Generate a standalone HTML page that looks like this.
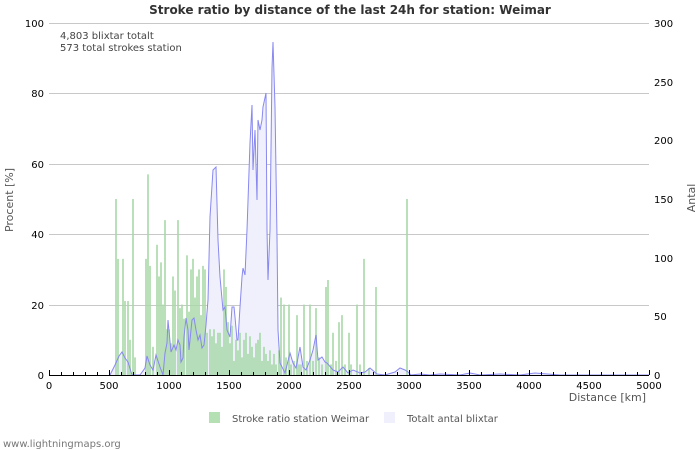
<!DOCTYPE html>
<html><head><meta charset="utf-8"><style>
html,body{margin:0;padding:0;background:#fff;width:700px;height:450px;overflow:hidden}
svg text{font-family:"DejaVu Sans","Liberation Sans",sans-serif}
</style></head><body>
<svg width="700" height="450" xmlns="http://www.w3.org/2000/svg">
<rect width="700" height="450" fill="#fff"/>
<text x="350" y="14" text-anchor="middle" font-size="12" font-weight="bold" fill="#333">Stroke ratio by distance of the last 24h for station: Weimar</text>
<g stroke="#c8c8c8" stroke-width="1">
<line x1="49" y1="23.5" x2="649" y2="23.5"/><line x1="49" y1="93.5" x2="649" y2="93.5"/>
<line x1="49" y1="164.5" x2="649" y2="164.5"/><line x1="49" y1="234.5" x2="649" y2="234.5"/>
<line x1="49" y1="305.5" x2="649" y2="305.5"/>
</g>
<polygon id="area" fill="#f0f0fc" stroke="none"/>
<g fill="#a8d8a8" fill-opacity="0.8" id="bars"></g>
<polyline id="line" fill="none" stroke="#8888f0" stroke-width="1"/>
<g stroke="#000" stroke-width="1">
<line x1="49" y1="375.5" x2="649" y2="375.5"/>
</g>
<g id="ticks" stroke="#000"></g>
<g font-size="10" fill="#000" text-anchor="end">
<text x="44" y="27">100</text><text x="44" y="97">80</text><text x="44" y="168">60</text>
<text x="44" y="238">40</text><text x="44" y="309">20</text><text x="44" y="379">0</text>
</g>
<g font-size="10" fill="#000" text-anchor="start">
<text x="654" y="27">300</text><text x="654" y="144">200</text><text x="654" y="262">100</text>
<text x="654" y="320">50</text><text x="654" y="203">150</text><text x="654" y="86">250</text>
<text x="654" y="379">0</text>
</g>
<g font-size="10" fill="#000" text-anchor="middle" id="xl"></g>
<text x="646" y="401" font-size="11" fill="#555" text-anchor="end">Distance   [km]</text>
<text transform="translate(13,200) rotate(-90)" font-size="11" fill="#555" text-anchor="middle">Procent   [%]</text>
<text transform="translate(695,198) rotate(-90)" font-size="11" fill="#555" text-anchor="middle">Antal</text>
<text x="60" y="39" font-size="10" fill="#444">4,803 blixtar totalt</text>
<text x="60" y="51" font-size="10" fill="#444">573 total strokes station</text>
<rect x="209" y="412" width="11" height="11" fill="#b4e0b4"/>
<text x="232" y="422" font-size="10" fill="#555">Stroke ratio station Weimar</text>
<rect x="384" y="412" width="11" height="11" fill="#f0f0fc"/>
<text x="407" y="422" font-size="10" fill="#555">Totalt antal blixtar</text>
<text x="3" y="447" font-size="10" fill="#777">www.lightningmaps.org</text>
</svg>
<script>
var NS="http://www.w3.org/2000/svg";
var bars=[[115,50],[117,33],[122,33],[124,21],[127,21],[129,10],[132,50],[134,5],[145,33],[147,57],[149,31],[152,8],[156,37],[158,28],[160,32],[162,20],[164,44],[166,13],[168,13],[170,9],[172,28],[174,24],[177,44],[179,19],[181,20],[183,16],[186,34],[188,18],[190,30],[192,33],[194,22],[196,28],[198,30],[200,17],[202,31],[204,30],[206,12],[209,13],[211,11],[213,13],[215,9],[217,12],[219,12],[221,8],[223,30],[225,25],[227,15],[229,9],[231,14],[233,4],[235,10],[237,7],[239,12],[241,5],[243,10],[245,12],[247,6],[249,11],[251,8],[253,5],[255,9],[257,10],[259,12],[261,4],[263,8],[265,6],[267,4],[269,7],[271,3],[273,6],[275,3],[278,7],[280,22],[283,20],[285,5],[288,20],[290,3],[293,4],[296,17],[298,3],[300,3],[303,20],[306,4],[309,20],[312,4],[315,19],[318,5],[321,3],[325,25],[327,27],[330,3],[332,12],[335,4],[338,15],[341,17],[344,3],[348,12],[350,3],[356,20],[359,3],[363,33],[368,2],[375,25],[406,50]];
var g=document.getElementById("bars");
bars.forEach(function(b){var r=document.createElementNS(NS,"rect");var h=b[1]*3.52;r.setAttribute("x",b[0]);r.setAttribute("y",375-h);r.setAttribute("width",2);r.setAttribute("height",h);g.appendChild(r);});
var pts=[[110,375],[115,365],[119,356],[122,352],[125,358],[128,362],[132,375],[140,375],[145,368],[147,356],[150,365],[153,370],[156,355],[160,367],[163,375],[165,353],[167,343],[168,320],[171,352],[174,345],[176,350],[178,340],[180,345],[181,362],[183,358],[184,337],[186,318],[188,330],[189,350],[192,320],[194,318],[196,330],[198,340],[200,335],[202,348],[204,345],[206,325],[208,300],[210,217],[213,170],[216,167],[218,240],[220,277],[223,310],[225,307],[227,330],[230,337],[232,307],[234,307],[235,317],[237,340],[238,340],[240,307],[242,277],[243,268],[245,275],[247,230],[250,143],[252,105],[253,170],[255,130],[257,200],[258,120],[260,130],[262,120],[263,107],[266,93],[267,230],[268,280],[270,230],[272,68],[273,42],[275,107],[277,237],[278,330],[280,363],[285,373],[290,353],[293,363],[296,368],[300,347],[303,367],[306,370],[310,360],[313,350],[316,335],[318,360],[322,357],[325,362],[327,363],[333,370],[338,372],[343,367],[348,373],[353,370],[360,373],[365,372],[370,368],[377,374],[385,375],[395,372],[400,368],[405,370],[408,372],[411,375],[420,374],[430,375],[440,374],[460,375],[470,373],[480,375],[500,374],[520,375],[535,373],[560,375],[590,375],[649,375]];
document.getElementById("line").setAttribute("points",pts.map(function(p){return p.join(",")}).join(" "));
document.getElementById("area").setAttribute("points","110,375 "+pts.map(function(p){return p.join(",")}).join(" ")+" 649,375");
var t=document.getElementById("ticks"),xl=document.getElementById("xl");
for(var i=0;i<=50;i++){var x=49+i*12+0.5;var l=document.createElementNS(NS,"line");l.setAttribute("x1",x);l.setAttribute("x2",x);l.setAttribute("y1",i%5==0?370:372);l.setAttribute("y2",375);t.appendChild(l);
if(i%5==0){var tx=document.createElementNS(NS,"text");tx.setAttribute("x",49+i*12);tx.setAttribute("y",389);tx.textContent=i*100;xl.appendChild(tx);}}
</script>
</body></html>
